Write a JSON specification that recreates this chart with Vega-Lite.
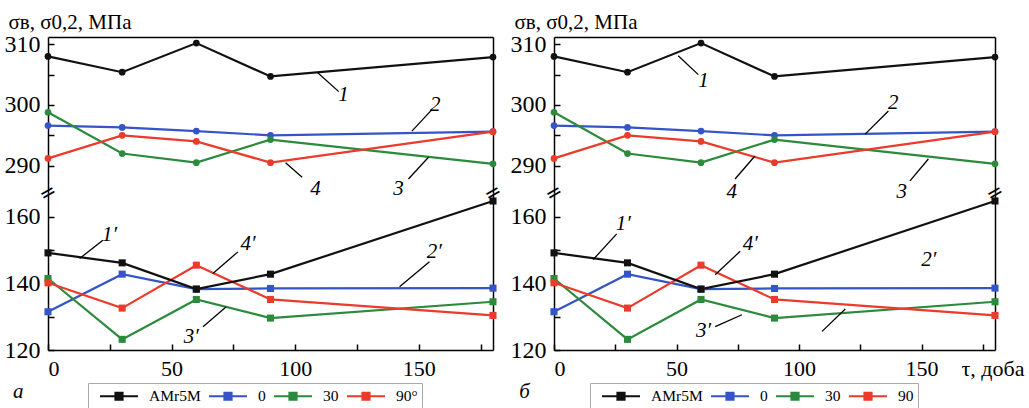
{
  "$schema": "https://vega.github.io/schema/vega-lite/v6.json",
  "padding": {"top": 11, "left": 4, "right": 2, "bottom": 0},
  "background": "#ffffff",
  "spacing": 4,
  "config": {
    "font": "Liberation Serif",
    "view": {"stroke": null},
    "axis": {"grid": false, "domain": true, "domainColor": "#000000", "domainWidth": 1.5, "tickColor": "#000000", "tickWidth": 1.5, "labelColor": "#000000", "labelFont": "Liberation Serif", "labelFontSize": 24, "titleFont": "Liberation Serif", "titleColor": "#000000", "titleFontWeight": "normal"},
    "legend": {"orient": "none", "direction": "horizontal", "columns": 4, "title": null, "strokeColor": "#aaaaaa", "padding": 4, "symbolType": "M-0.125,0H4.625M1.8,-0.45H2.7V0.45H1.8Z", "symbolSize": 256, "symbolStrokeWidth": 2, "labelFont": "Liberation Serif", "labelFontSize": 15.5, "labelColor": "#000000", "labelOffset": 39, "columnPadding": 0}
  },
  "datasets": {
    "top": [
      {"x": 0, "y": 296.6, "s": "0"}, {"x": 30, "y": 296.3, "s": "0"}, {"x": 60, "y": 295.7, "s": "0"}, {"x": 90, "y": 295.0, "s": "0"}, {"x": 180, "y": 295.6, "s": "0"},
      {"x": 0, "y": 298.8, "s": "30"}, {"x": 30, "y": 292.0, "s": "30"}, {"x": 60, "y": 290.5, "s": "30"}, {"x": 90, "y": 294.3, "s": "30"}, {"x": 180, "y": 290.3, "s": "30"},
      {"x": 0, "y": 291.2, "s": "90"}, {"x": 30, "y": 295.0, "s": "90"}, {"x": 60, "y": 294.0, "s": "90"}, {"x": 90, "y": 290.5, "s": "90"}, {"x": 180, "y": 295.6, "s": "90"},
      {"x": 0, "y": 308.0, "s": "AMr5M"}, {"x": 30, "y": 305.4, "s": "AMr5M"}, {"x": 60, "y": 310.2, "s": "AMr5M"}, {"x": 90, "y": 304.7, "s": "AMr5M"}, {"x": 180, "y": 307.9, "s": "AMr5M"}
    ],
    "bot": [
      {"x": 0, "y": 131.5, "s": "0"}, {"x": 30, "y": 142.8, "s": "0"}, {"x": 60, "y": 138.3, "s": "0"}, {"x": 90, "y": 138.5, "s": "0"}, {"x": 180, "y": 138.6, "s": "0"},
      {"x": 0, "y": 141.5, "s": "30"}, {"x": 30, "y": 123.2, "s": "30"}, {"x": 60, "y": 135.2, "s": "30"}, {"x": 90, "y": 129.6, "s": "30"}, {"x": 180, "y": 134.5, "s": "30"},
      {"x": 0, "y": 140.2, "s": "90"}, {"x": 30, "y": 132.6, "s": "90"}, {"x": 60, "y": 145.5, "s": "90"}, {"x": 90, "y": 135.2, "s": "90"}, {"x": 180, "y": 130.4, "s": "90"},
      {"x": 0, "y": 149.2, "s": "AMr5M"}, {"x": 30, "y": 146.2, "s": "AMr5M"}, {"x": 60, "y": 138.3, "s": "AMr5M"}, {"x": 90, "y": 142.8, "s": "AMr5M"}, {"x": 180, "y": 164.8, "s": "AMr5M"}
    ],
    "brk": [{"x": 0, "y": 167.2}, {"x": 180, "y": 167.2}],
    "lead_ta": [
      {"x": 108.9, "y": 305.4, "x2": 117.6, "y2": 302.2},
      {"x": 147.2, "y": 295.7, "x2": 155.2, "y2": 299.2},
      {"x": 145.8, "y": 287.8, "x2": 153.9, "y2": 291.4},
      {"x": 102.8, "y": 288.1, "x2": 96.1, "y2": 290.5}
    ],
    "lab_ta": [
      {"x": 119.5, "y": 301.6, "t": "1"},
      {"x": 156.6, "y": 300.0, "t": "2"},
      {"x": 141.8, "y": 286.2, "t": "3"},
      {"x": 108.2, "y": 286.2, "t": "4"}
    ],
    "lead_ba": [
      {"x": 12.8, "y": 147.5, "x2": 22.2, "y2": 153.0},
      {"x": 66.7, "y": 143.0, "x2": 76.8, "y2": 149.5},
      {"x": 142.2, "y": 139.0, "x2": 154.3, "y2": 146.5},
      {"x": 62.7, "y": 127.0, "x2": 72.1, "y2": 133.0}
    ],
    "lab_ba": [
      {"x": 24.9, "y": 154.5, "t": "1′"},
      {"x": 80.9, "y": 152.0, "t": "4′"},
      {"x": 156.3, "y": 149.5, "t": "2′"},
      {"x": 58.0, "y": 124.0, "t": "3′"},
      {"x": -12, "y": 107.5, "t": "а"}
    ],
    "lead_tb": [
      {"x": 50.7, "y": 308.1, "x2": 58.9, "y2": 305.0},
      {"x": 127.0, "y": 295.2, "x2": 136.5, "y2": 299.0},
      {"x": 145.3, "y": 287.5, "x2": 152.8, "y2": 291.1},
      {"x": 73.9, "y": 287.8, "x2": 82.0, "y2": 291.6}
    ],
    "lab_tb": [
      {"x": 61.0, "y": 304.0, "t": "1"},
      {"x": 138.5, "y": 300.4, "t": "2"},
      {"x": 141.9, "y": 285.6, "t": "3"},
      {"x": 72.5, "y": 285.6, "t": "4"}
    ],
    "lead_bb": [
      {"x": 16.0, "y": 147.2, "x2": 25.6, "y2": 154.9},
      {"x": 65.8, "y": 142.6, "x2": 76.0, "y2": 149.7},
      {"x": 65.8, "y": 127.0, "x2": 76.7, "y2": 130.6},
      {"x": 109.4, "y": 125.6, "x2": 118.9, "y2": 132.3}
    ],
    "lab_bb": [
      {"x": 28.3, "y": 158.0, "t": "1′"},
      {"x": 80.1, "y": 151.8, "t": "4′"},
      {"x": 153.0, "y": 147.2, "t": "2′"},
      {"x": 61.0, "y": 125.6, "t": "3′"},
      {"x": -12, "y": 107.5, "t": "б"}
    ]
  },
  "resolve": {"scale": {"color": "independent"}, "legend": {"color": "independent"}},
  "hconcat": [
    {
      "spacing": 0,
      "bounds": "flush",
      "resolve": {"scale": {"color": "independent"}, "legend": {"color": "independent"}},
      "vconcat": [
        {
          "width": 445, "height": 156,
          "resolve": {"axis": {"x": "independent", "y": "independent"}},
          "layer": [
            {
              "data": {"name": "top"},
              "mark": {"type": "line", "strokeWidth": 2.2},
              "encoding": {
                "x": {"field": "x", "type": "quantitative", "scale": {"domain": [0, 180], "nice": false, "zero": false}, "axis": {"orient": "top", "domain": true, "labels": false, "ticks": false, "title": null}},
                "y": {"field": "y", "type": "quantitative", "scale": {"domain": [285.5, 311.2], "nice": false, "zero": false}, "axis": {"orient": "left", "domain": true, "values": [290, 295, 300, 305, 310], "labelExpr": "datum.value % 10 === 0 ? datum.label : ''", "tickSize": -6, "labelPadding": 14, "title": "σв, σ0,2, МПа", "titleAngle": 0, "titleAlign": "left", "titleBaseline": "alphabetic", "titleX": -40, "titleY": -9, "titleFontSize": 21}},
                "color": {"field": "s", "type": "nominal", "scale": {"domain": ["AMr5M", "0", "30", "90"], "range": ["#111111", "#3454c8", "#2b8a3c", "#ec3a2b"]}, "legend": null}
              }
            },
            {
              "data": {"name": "top"},
              "mark": {"type": "point", "shape": "circle", "filled": true, "size": 45, "opacity": 1},
              "encoding": {
                "x": {"field": "x", "type": "quantitative", "scale": {"domain": [0, 180], "nice": false, "zero": false}, "axis": null},
                "y": {"field": "y", "type": "quantitative", "scale": {"domain": [285.5, 311.2], "nice": false, "zero": false}, "axis": {"orient": "right", "domain": true, "labels": false, "ticks": false, "title": null}},
                "color": {"field": "s", "type": "nominal", "scale": {"domain": ["AMr5M", "0", "30", "90"], "range": ["#111111", "#3454c8", "#2b8a3c", "#ec3a2b"]}, "legend": null}
              }
            },
            {
              "data": {"name": "lead_ta"},
              "mark": {"type": "rule", "color": "#000000", "strokeWidth": 1.3},
              "encoding": {
                "x": {"field": "x", "type": "quantitative", "scale": {"domain": [0, 180], "nice": false, "zero": false}, "axis": null},
                "y": {"field": "y", "type": "quantitative", "scale": {"domain": [285.5, 311.2], "nice": false, "zero": false}, "axis": null},
                "x2": {"field": "x2"}, "y2": {"field": "y2"}
              }
            },
            {
              "data": {"name": "lab_ta"},
              "mark": {"type": "text", "font": "Liberation Serif", "fontStyle": "italic", "fontSize": 21, "color": "#000000"},
              "encoding": {
                "x": {"field": "x", "type": "quantitative", "scale": {"domain": [0, 180], "nice": false, "zero": false}, "axis": null},
                "y": {"field": "y", "type": "quantitative", "scale": {"domain": [285.5, 311.2], "nice": false, "zero": false}, "axis": null},
                "text": {"field": "t"}
              }
            }
          ]
        },
        {
          "width": 445, "height": 157,
          "resolve": {"axis": {"x": "independent", "y": "independent"}},
          "layer": [
            {
              "data": {"name": "bot"},
              "mark": {"type": "line", "strokeWidth": 2.2},
              "encoding": {
                "x": {"field": "x", "type": "quantitative", "scale": {"domain": [0, 180], "nice": false, "zero": false}, "axis": {"orient": "bottom", "domain": true, "values": [0, 25, 50, 75, 100, 125, 150, 175], "labelExpr": "datum.value % 50 === 0 ? datum.label : ''", "tickSize": -6, "labelPadding": 14, "labelFontSize": 22, "title": null}},
                "y": {"field": "y", "type": "quantitative", "scale": {"domain": [120, 167.2], "nice": false, "zero": false}, "axis": {"orient": "left", "domain": true, "values": [120, 130, 140, 150, 160], "labelExpr": "datum.value % 20 === 0 ? datum.label : ''", "tickSize": -6, "labelPadding": 14, "title": null}},
                "color": {"field": "s", "type": "nominal", "scale": {"domain": ["AMr5M", "0", "30", "90"], "range": ["#111111", "#3454c8", "#2b8a3c", "#ec3a2b"]}, "legend": {"legendX": 40, "legendY": 190, "labelExpr": "datum.label === '90' ? '90°' : datum.label", "encode": {"symbols": {"update": {"fill": {"signal": "datum.value === 'AMr5M' ? '#111111' : datum.value === '0' ? '#3454c8' : datum.value === '30' ? '#2b8a3c' : '#ec3a2b'"}, "stroke": {"signal": "datum.value === 'AMr5M' ? '#111111' : datum.value === '0' ? '#3454c8' : datum.value === '30' ? '#2b8a3c' : '#ec3a2b'"}, "opacity": {"value": 1}, "fillOpacity": {"value": 1}}}}}}
              }
            },
            {
              "data": {"name": "bot"},
              "mark": {"type": "point", "shape": "square", "filled": true, "size": 50, "opacity": 1},
              "encoding": {
                "x": {"field": "x", "type": "quantitative", "scale": {"domain": [0, 180], "nice": false, "zero": false}, "axis": null},
                "y": {"field": "y", "type": "quantitative", "scale": {"domain": [120, 167.2], "nice": false, "zero": false}, "axis": {"orient": "right", "domain": true, "labels": false, "ticks": false, "title": null}},
                "color": {"field": "s", "type": "nominal", "scale": {"domain": ["AMr5M", "0", "30", "90"], "range": ["#111111", "#3454c8", "#2b8a3c", "#ec3a2b"]}, "legend": {"legendX": 40, "legendY": 190, "labelExpr": "datum.label === '90' ? '90°' : datum.label", "encode": {"symbols": {"update": {"fill": {"signal": "datum.value === 'AMr5M' ? '#111111' : datum.value === '0' ? '#3454c8' : datum.value === '30' ? '#2b8a3c' : '#ec3a2b'"}, "stroke": {"signal": "datum.value === 'AMr5M' ? '#111111' : datum.value === '0' ? '#3454c8' : datum.value === '30' ? '#2b8a3c' : '#ec3a2b'"}, "opacity": {"value": 1}, "fillOpacity": {"value": 1}}}}}}
              }
            },
            {
              "data": {"name": "brk"},
              "mark": {"type": "text", "text": "=", "font": "DejaVu Sans", "fontSize": 20, "angle": -30, "color": "#000000", "baseline": "middle", "align": "center"},
              "encoding": {
                "x": {"field": "x", "type": "quantitative", "scale": {"domain": [0, 180], "nice": false, "zero": false}, "axis": null},
                "y": {"field": "y", "type": "quantitative", "scale": {"domain": [120, 167.2], "nice": false, "zero": false}, "axis": null}
              }
            },
            {
              "data": {"name": "lead_ba"},
              "mark": {"type": "rule", "color": "#000000", "strokeWidth": 1.3},
              "encoding": {
                "x": {"field": "x", "type": "quantitative", "scale": {"domain": [0, 180], "nice": false, "zero": false}, "axis": null},
                "y": {"field": "y", "type": "quantitative", "scale": {"domain": [120, 167.2], "nice": false, "zero": false}, "axis": null},
                "x2": {"field": "x2"}, "y2": {"field": "y2"}
              }
            },
            {
              "data": {"name": "lab_ba"},
              "mark": {"type": "text", "font": "Liberation Serif", "fontStyle": "italic", "fontSize": 21, "color": "#000000"},
              "encoding": {
                "x": {"field": "x", "type": "quantitative", "scale": {"domain": [0, 180], "nice": false, "zero": false}, "axis": null},
                "y": {"field": "y", "type": "quantitative", "scale": {"domain": [120, 167.2], "nice": false, "zero": false}, "axis": null},
                "text": {"field": "t"}
              }
            }
          ]
        }
      ]
    },
    {
      "spacing": 0,
      "bounds": "flush",
      "resolve": {"scale": {"color": "independent"}, "legend": {"color": "independent"}},
      "vconcat": [
        {
          "width": 441, "height": 156,
          "resolve": {"axis": {"x": "independent", "y": "independent"}},
          "layer": [
            {
              "data": {"name": "top"},
              "mark": {"type": "line", "strokeWidth": 2.2},
              "encoding": {
                "x": {"field": "x", "type": "quantitative", "scale": {"domain": [0, 180], "nice": false, "zero": false}, "axis": {"orient": "top", "domain": true, "labels": false, "ticks": false, "title": null}},
                "y": {"field": "y", "type": "quantitative", "scale": {"domain": [285.5, 311.2], "nice": false, "zero": false}, "axis": {"orient": "left", "domain": true, "values": [290, 295, 300, 305, 310], "labelExpr": "datum.value % 10 === 0 ? datum.label : ''", "tickSize": -6, "labelPadding": 14, "title": "σв, σ0,2, МПа", "titleAngle": 0, "titleAlign": "left", "titleBaseline": "alphabetic", "titleX": -40, "titleY": -9, "titleFontSize": 21}},
                "color": {"field": "s", "type": "nominal", "scale": {"domain": ["AMr5M", "0", "30", "90"], "range": ["#111111", "#3454c8", "#2b8a3c", "#ec3a2b"]}, "legend": null}
              }
            },
            {
              "data": {"name": "top"},
              "mark": {"type": "point", "shape": "circle", "filled": true, "size": 45, "opacity": 1},
              "encoding": {
                "x": {"field": "x", "type": "quantitative", "scale": {"domain": [0, 180], "nice": false, "zero": false}, "axis": null},
                "y": {"field": "y", "type": "quantitative", "scale": {"domain": [285.5, 311.2], "nice": false, "zero": false}, "axis": {"orient": "right", "domain": true, "labels": false, "ticks": false, "title": null}},
                "color": {"field": "s", "type": "nominal", "scale": {"domain": ["AMr5M", "0", "30", "90"], "range": ["#111111", "#3454c8", "#2b8a3c", "#ec3a2b"]}, "legend": null}
              }
            },
            {
              "data": {"name": "lead_tb"},
              "mark": {"type": "rule", "color": "#000000", "strokeWidth": 1.3},
              "encoding": {
                "x": {"field": "x", "type": "quantitative", "scale": {"domain": [0, 180], "nice": false, "zero": false}, "axis": null},
                "y": {"field": "y", "type": "quantitative", "scale": {"domain": [285.5, 311.2], "nice": false, "zero": false}, "axis": null},
                "x2": {"field": "x2"}, "y2": {"field": "y2"}
              }
            },
            {
              "data": {"name": "lab_tb"},
              "mark": {"type": "text", "font": "Liberation Serif", "fontStyle": "italic", "fontSize": 21, "color": "#000000"},
              "encoding": {
                "x": {"field": "x", "type": "quantitative", "scale": {"domain": [0, 180], "nice": false, "zero": false}, "axis": null},
                "y": {"field": "y", "type": "quantitative", "scale": {"domain": [285.5, 311.2], "nice": false, "zero": false}, "axis": null},
                "text": {"field": "t"}
              }
            }
          ]
        },
        {
          "width": 441, "height": 157,
          "resolve": {"axis": {"x": "independent", "y": "independent"}},
          "layer": [
            {
              "data": {"name": "bot"},
              "mark": {"type": "line", "strokeWidth": 2.2},
              "encoding": {
                "x": {"field": "x", "type": "quantitative", "scale": {"domain": [0, 180], "nice": false, "zero": false}, "axis": {"orient": "bottom", "domain": true, "values": [0, 25, 50, 75, 100, 125, 150, 175], "labelExpr": "datum.value % 50 === 0 ? datum.label : ''", "tickSize": -6, "labelPadding": 14, "labelFontSize": 22, "title": "τ, доба", "titleAngle": 0, "titleAlign": "right", "titleBaseline": "alphabetic", "titleX": 470, "titleY": 25, "titleFontSize": 22}},
                "y": {"field": "y", "type": "quantitative", "scale": {"domain": [120, 167.2], "nice": false, "zero": false}, "axis": {"orient": "left", "domain": true, "values": [120, 130, 140, 150, 160], "labelExpr": "datum.value % 20 === 0 ? datum.label : ''", "tickSize": -6, "labelPadding": 14, "title": null}},
                "color": {"field": "s", "type": "nominal", "scale": {"domain": ["AMr5M", "0", "30", "90"], "range": ["#111111", "#3454c8", "#2b8a3c", "#ec3a2b"]}, "legend": {"legendX": 36, "legendY": 190, "encode": {"symbols": {"update": {"fill": {"signal": "datum.value === 'AMr5M' ? '#111111' : datum.value === '0' ? '#3454c8' : datum.value === '30' ? '#2b8a3c' : '#ec3a2b'"}, "stroke": {"signal": "datum.value === 'AMr5M' ? '#111111' : datum.value === '0' ? '#3454c8' : datum.value === '30' ? '#2b8a3c' : '#ec3a2b'"}, "opacity": {"value": 1}, "fillOpacity": {"value": 1}}}}}}
              }
            },
            {
              "data": {"name": "bot"},
              "mark": {"type": "point", "shape": "square", "filled": true, "size": 50, "opacity": 1},
              "encoding": {
                "x": {"field": "x", "type": "quantitative", "scale": {"domain": [0, 180], "nice": false, "zero": false}, "axis": null},
                "y": {"field": "y", "type": "quantitative", "scale": {"domain": [120, 167.2], "nice": false, "zero": false}, "axis": {"orient": "right", "domain": true, "labels": false, "ticks": false, "title": null}},
                "color": {"field": "s", "type": "nominal", "scale": {"domain": ["AMr5M", "0", "30", "90"], "range": ["#111111", "#3454c8", "#2b8a3c", "#ec3a2b"]}, "legend": {"legendX": 36, "legendY": 190, "encode": {"symbols": {"update": {"fill": {"signal": "datum.value === 'AMr5M' ? '#111111' : datum.value === '0' ? '#3454c8' : datum.value === '30' ? '#2b8a3c' : '#ec3a2b'"}, "stroke": {"signal": "datum.value === 'AMr5M' ? '#111111' : datum.value === '0' ? '#3454c8' : datum.value === '30' ? '#2b8a3c' : '#ec3a2b'"}, "opacity": {"value": 1}, "fillOpacity": {"value": 1}}}}}}
              }
            },
            {
              "data": {"name": "brk"},
              "mark": {"type": "text", "text": "=", "font": "DejaVu Sans", "fontSize": 20, "angle": -30, "color": "#000000", "baseline": "middle", "align": "center"},
              "encoding": {
                "x": {"field": "x", "type": "quantitative", "scale": {"domain": [0, 180], "nice": false, "zero": false}, "axis": null},
                "y": {"field": "y", "type": "quantitative", "scale": {"domain": [120, 167.2], "nice": false, "zero": false}, "axis": null}
              }
            },
            {
              "data": {"name": "lead_bb"},
              "mark": {"type": "rule", "color": "#000000", "strokeWidth": 1.3},
              "encoding": {
                "x": {"field": "x", "type": "quantitative", "scale": {"domain": [0, 180], "nice": false, "zero": false}, "axis": null},
                "y": {"field": "y", "type": "quantitative", "scale": {"domain": [120, 167.2], "nice": false, "zero": false}, "axis": null},
                "x2": {"field": "x2"}, "y2": {"field": "y2"}
              }
            },
            {
              "data": {"name": "lab_bb"},
              "mark": {"type": "text", "font": "Liberation Serif", "fontStyle": "italic", "fontSize": 21, "color": "#000000"},
              "encoding": {
                "x": {"field": "x", "type": "quantitative", "scale": {"domain": [0, 180], "nice": false, "zero": false}, "axis": null},
                "y": {"field": "y", "type": "quantitative", "scale": {"domain": [120, 167.2], "nice": false, "zero": false}, "axis": null},
                "text": {"field": "t"}
              }
            }
          ]
        }
      ]
    }
  ]
}
